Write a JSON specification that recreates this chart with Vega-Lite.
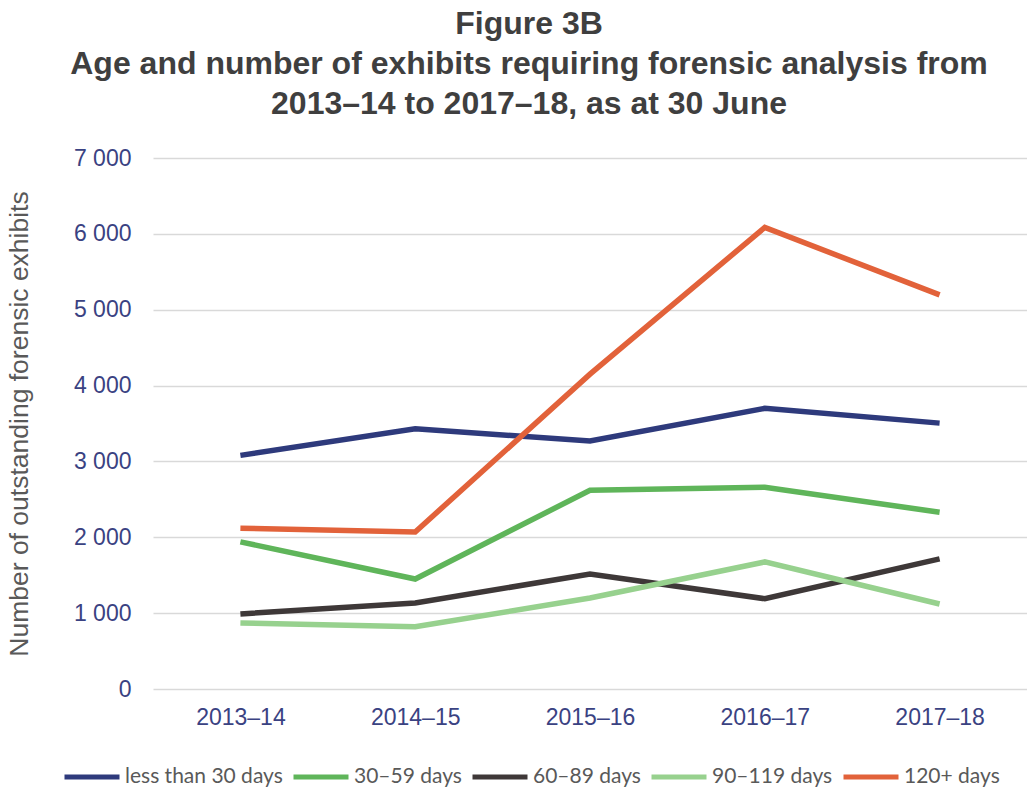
{
  "$schema": "https://vega.github.io/schema/vega-lite/v6.json",
  "width": 874,
  "height": 531,
  "autosize": "none",
  "padding": {"left": 153, "top": 158, "right": 0, "bottom": 99},
  "background": "white",
  "title": {
    "text": ["Figure 3B", "Age and number of exhibits requiring forensic analysis from", "2013–14 to 2017–18, as at 30 June"],
    "font": "Liberation Sans",
    "fontSize": 32,
    "fontWeight": "bold",
    "color": "#3F3F3F",
    "lineHeight": 40,
    "anchor": "middle",
    "dx": -61,
    "offset": 26
  },
  "data": {
    "values": [
      {"year": "2013–14", "age": "less than 30 days", "n": 3080},
      {"year": "2014–15", "age": "less than 30 days", "n": 3430},
      {"year": "2015–16", "age": "less than 30 days", "n": 3270},
      {"year": "2016–17", "age": "less than 30 days", "n": 3700},
      {"year": "2017–18", "age": "less than 30 days", "n": 3505},
      {"year": "2013–14", "age": "30–59 days", "n": 1940},
      {"year": "2014–15", "age": "30–59 days", "n": 1450},
      {"year": "2015–16", "age": "30–59 days", "n": 2620},
      {"year": "2016–17", "age": "30–59 days", "n": 2660},
      {"year": "2017–18", "age": "30–59 days", "n": 2330},
      {"year": "2013–14", "age": "60–89 days", "n": 990},
      {"year": "2014–15", "age": "60–89 days", "n": 1135},
      {"year": "2015–16", "age": "60–89 days", "n": 1515},
      {"year": "2016–17", "age": "60–89 days", "n": 1190},
      {"year": "2017–18", "age": "60–89 days", "n": 1715},
      {"year": "2013–14", "age": "90–119 days", "n": 870},
      {"year": "2014–15", "age": "90–119 days", "n": 820},
      {"year": "2015–16", "age": "90–119 days", "n": 1200},
      {"year": "2016–17", "age": "90–119 days", "n": 1675},
      {"year": "2017–18", "age": "90–119 days", "n": 1120},
      {"year": "2013–14", "age": "120+ days", "n": 2120},
      {"year": "2014–15", "age": "120+ days", "n": 2070},
      {"year": "2015–16", "age": "120+ days", "n": 4150},
      {"year": "2016–17", "age": "120+ days", "n": 6085},
      {"year": "2017–18", "age": "120+ days", "n": 5195}
    ]
  },
  "mark": {"type": "line", "strokeWidth": 5.5, "strokeCap": "butt", "strokeJoin": "miter"},
  "encoding": {
    "x": {
      "field": "year",
      "type": "ordinal",
      "scale": {"type": "point", "padding": 0.5},
      "axis": {
        "title": null,
        "labelAngle": 0,
        "labelFont": "Liberation Sans",
        "labelFontSize": 23,
        "labelColor": "#3A4282",
        "labelPadding": 17,
        "ticks": false,
        "domain": false,
        "grid": false
      }
    },
    "y": {
      "field": "n",
      "type": "quantitative",
      "scale": {"domain": [0, 7000], "nice": false},
      "axis": {
        "values": [0, 1000, 2000, 3000, 4000, 5000, 6000, 7000],
        "labelExpr": "replace(format(datum.value, ','), ',', ' ')",
        "title": "Number of outstanding forensic exhibits",
        "titleFont": "Liberation Sans",
        "titleFontSize": 26.5,
        "titleFontWeight": "normal",
        "titleColor": "#595959",
        "titlePadding": 40,
        "labelFont": "Liberation Sans",
        "labelFontSize": 23,
        "labelColor": "#3A4282",
        "labelPadding": 22,
        "ticks": false,
        "domain": false,
        "grid": true,
        "gridColor": "#D9D9D9",
        "gridWidth": 1.5
      }
    },
    "color": {
      "field": "age",
      "type": "nominal",
      "scale": {
        "domain": ["less than 30 days", "30–59 days", "60–89 days", "90–119 days", "120+ days"],
        "range": ["#2E3A7C", "#5FB55A", "#3E3838", "#97D18E", "#E2623A"]
      },
      "legend": {
        "title": null,
        "orient": "none",
        "direction": "horizontal",
        "legendX": -91,
        "legendY": 589,
        "symbolType": "stroke",
        "symbolSize": 3025,
        "symbolStrokeWidth": 5,
        "labelFont": "Lato",
        "labelFontSize": 21,
        "labelColor": "#595959",
        "labelOffset": 3,
        "columnPadding": 0,
        "labelLimit": 300
      }
    }
  },
  "config": {"view": {"stroke": null}}
}
